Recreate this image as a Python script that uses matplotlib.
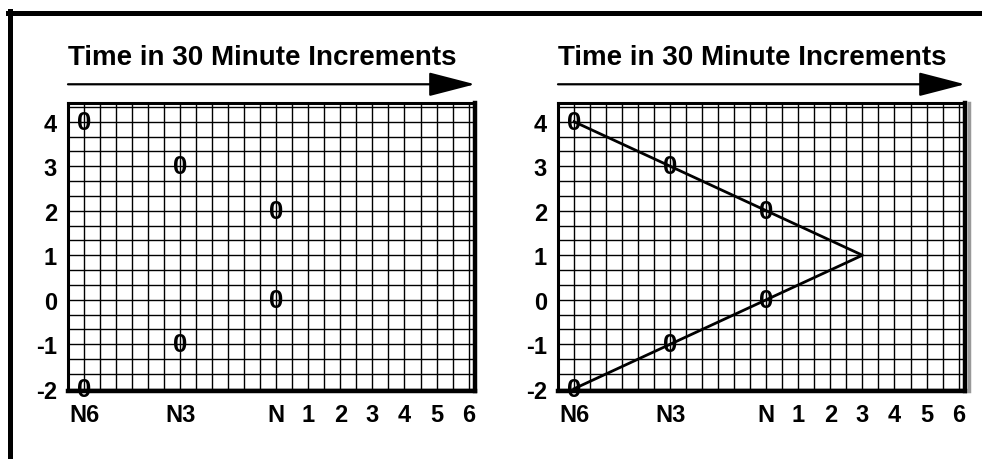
import matplotlib
matplotlib.use('Agg')
import matplotlib.pyplot as plt
from matplotlib.ticker import MultipleLocator, FixedLocator
from matplotlib.lines import Line2D

# Data
tick_pos = [-6, -3, 0, 1, 2, 3, 4, 5, 6]
tick_labels = ['N6', 'N3', 'N', '1', '2', '3', '4', '5', '6']
y_ticks = [-2, -1, 0, 1, 2, 3, 4]
y_labels = ['-2', '-1', '0', '1', '2', '3', '4']

obs_hours = [-6, -3, 0, 0, -3, -6]
obs_values = [4, 3, 2, 0, -1, -2]

path_hours = [-6, -3, 0, 3, 0, -3, -6]
path_values = [4, 3, 2, 1, 0, -1, -2]

title = 'Time in 30 Minute Increments'

plt.rcParams['font.family'] = ['Liberation Sans', 'DejaVu Sans']

W, H = 982, 460
fig = plt.figure(figsize=(W / 100, H / 100), dpi=100)


def px_axes(x0, y0, x1, y1):
    # pixel box (top-down) -> figure fraction
    return fig.add_axes([x0 / W, 1 - y1 / H, (x1 - x0) / W, (y1 - y0) / H])


def setup(ax):
    ax.set_xlim(-6.5, 6.2)
    ax.set_ylim(-2.05, 4.42)
    ax.xaxis.set_major_locator(FixedLocator(tick_pos))
    ax.set_xticklabels(tick_labels)
    ax.set_yticks(y_ticks)
    ax.set_yticklabels(y_labels)
    ax.xaxis.set_minor_locator(MultipleLocator(0.5))
    ax.yaxis.set_minor_locator(MultipleLocator(1 / 3))
    ax.grid(True, which='both', color='black', linewidth=1.0)
    ax.set_axisbelow(True)
    ax.tick_params(which='both', length=0)
    ax.tick_params(axis='x', pad=9, labelsize=17)
    ax.tick_params(axis='y', pad=8, labelsize=17)
    for lbl in ax.get_xticklabels() + ax.get_yticklabels():
        lbl.set_fontweight('bold')
    ax.spines['left'].set_linewidth(2.2)
    ax.spines['top'].set_linewidth(2.2)
    ax.spines['right'].set_linewidth(3.2)
    ax.spines['bottom'].set_linewidth(3.2)

    # heading and arrow above the grid
    ax.text(0.0, 1.16, title, transform=ax.transAxes, fontsize=20,
            fontweight='bold', ha='left', va='center')
    ax.annotate('', xy=(1.0, 1.065), xytext=(0.0, 1.065),
                xycoords='axes fraction', textcoords='axes fraction',
                annotation_clip=False,
                arrowprops=dict(arrowstyle='-|>,head_length=2.9,head_width=0.75',
                                mutation_scale=10, lw=1.6, color='black',
                                shrinkA=0, shrinkB=0))

    for h, v in zip(obs_hours, obs_values):
        ax.text(h, v, '0', fontsize=18.5, fontweight='bold',
                ha='center', va='center', zorder=5)


ax1 = px_axes(68, 104, 475, 392)
setup(ax1)

ax2 = px_axes(558, 104, 965, 392)
setup(ax2)
ax2.plot(path_hours, path_values, color='black', linewidth=2.0, zorder=4)
# grey shadow on the right edge
ax2.add_line(Line2D([1.01, 1.01], [0, 1], transform=ax2.transAxes,
                    color='#999999', linewidth=2.5, clip_on=False))

# outer frame
fig.add_artist(Line2D([8 / W, 1], [1 - 14 / H, 1 - 14 / H], color='black', linewidth=3.6))
fig.add_artist(Line2D([10 / W, 10 / W], [0, 1 - 12 / H], color='black', linewidth=3.6))

fig.savefig('out.png', dpi=100)
